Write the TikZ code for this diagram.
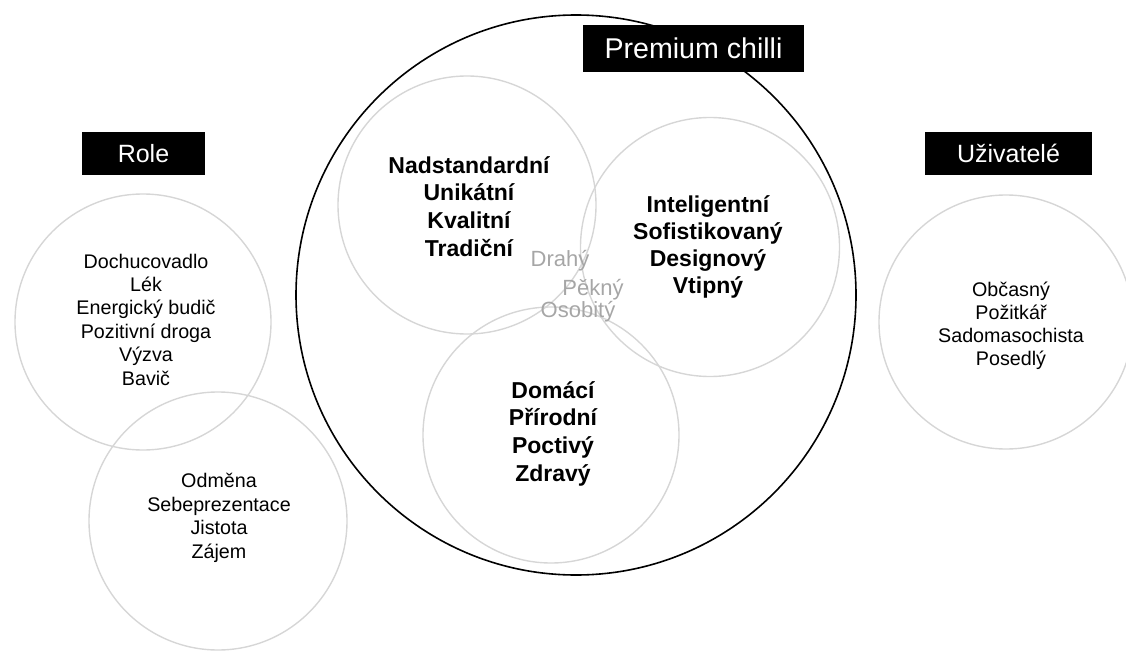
\documentclass[tikz,border=0pt]{standalone}
\usepackage{fontspec}
\setmainfont{Liberation Sans}
\definecolor{ringgray}{RGB}{214,214,214}
\definecolor{softgray}{RGB}{166,166,166}
\begin{document}
\begin{tikzpicture}[x=1pt,y=-1pt,
  ring/.style={circle, draw=ringgray, line width=1.4pt, inner sep=0pt},
  bigring/.style={circle, draw=black, line width=1.6pt, inner sep=0pt},
  tagbox/.style={fill=black, text=white, inner sep=0pt, font=\fontsize{25}{30}\selectfont, text height=18pt, text depth=0pt},
  plain/.style={align=center, anchor=base, inner sep=0pt, font=\fontsize{19.7}{23.4}\selectfont},
  strong/.style={align=center, anchor=base, inner sep=0pt, font=\bfseries\fontsize{23}{27.6}\selectfont},
  faint/.style={anchor=base, inner sep=0pt, text=softgray, font=\fontsize{22}{26}\selectfont}]
\useasboundingbox (0,0) rectangle (1126,650);
% big circle
\node[bigring, minimum size=560pt] (premium) at (576,295) {};
% grey circles
\node[ring, minimum size=258pt] (c1) at (467,205) {};
\node[ring, minimum size=259pt] (c2) at (710,247) {};
\node[ring, minimum size=256pt] (c3) at (551,435) {};
\node[ring, minimum size=256pt] (r1) at (143,322) {};
\node[ring, minimum size=258pt] (r2) at (218,521) {};
\node[ring, minimum size=254pt] (u1) at (1006,322) {};
% texts (anchored at the baseline of the last line)
\node[plain] (t1) at (146,385) {Dochucovadlo\\Lék\\Energický budič\\Pozitivní droga\\Výzva\\Bavič};
\node[plain] (t2) at (219,558) {Odměna\\Sebeprezentace\\Jistota\\Zájem};
\node[plain, font=\fontsize{19.7}{22.7}\selectfont] (t3) at (1011,365) {Občasný\\Požitkář\\Sadomasochista\\Posedlý};
\node[strong] (t4) at (469,256) {Nadstandardní\\Unikátní\\Kvalitní\\Tradiční};
\node[strong, font=\bfseries\fontsize{23}{26.7}\selectfont] (t5) at (708,293) {Inteligentní\\Sofistikovaný\\Designový\\Vtipný};
\node[strong] (t6) at (553,481) {Domácí\\Přírodní\\Poctivý\\Zdravý};
\node[faint] (g1) at (560,266) {Drahý};
\node[faint] (g2) at (593,295) {Pěkný};
\node[faint] (g3) at (578,317) {Osobitý};
% labels
\node[tagbox, minimum width=123pt, minimum height=43pt] (role) at (143.5,153.5) {Role};
\node[tagbox, minimum width=167pt, minimum height=43pt] (users) at (1008.5,153.5) {Uživatelé};
\node[tagbox, minimum width=221pt, minimum height=47pt, font=\fontsize{28.6}{34}\selectfont, text height=20.5pt] (prem) at (693.5,48.5) {Premium chilli};
\end{tikzpicture}
\end{document}
